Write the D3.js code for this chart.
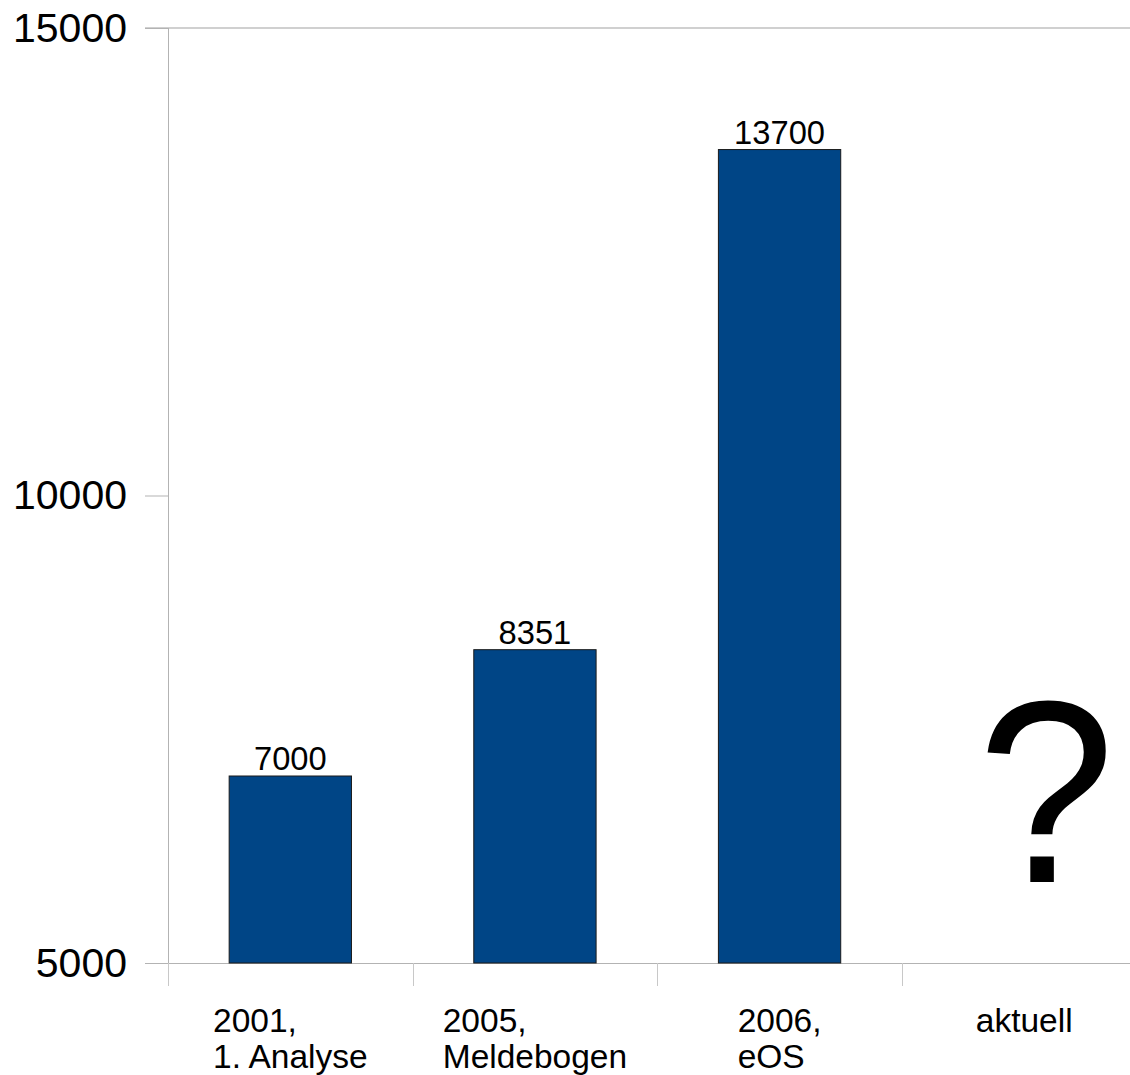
<!DOCTYPE html>
<html>
<head>
<meta charset="utf-8">
<script src="https://cdn.jsdelivr.net/npm/d3@7/dist/d3.min.js"></script>
<style>
  html, body { margin: 0; padding: 0; background: #fff; }
  svg { display: block; font-family: "Liberation Sans", Arial, sans-serif; }
</style>
</head>
<body>
<svg id="chart" width="1130" height="1075"></svg>
<script>
const categories = [["2001,", "1. Analyse"], ["2005,", "Meldebogen"], ["2006,", "eOS"], ["aktuell"]];
const values = [7000, 8351, 13700, null];
const yTicks = [5000, 10000, 15000];
const unknownMark = "?";

const svg = d3.select("#chart");
const plotLeft = 168, plotRight = 1146.5, plotTop = 28, plotBottom = 963;

const keys = categories.map((c, i) => i);
const x = d3.scaleBand().domain(keys).range([plotLeft, plotRight]).paddingInner(0.5).paddingOuter(0.25);
const y = d3.scaleLinear().domain([5000, 15000]).range([plotBottom, plotTop]);

// top border line
svg.append("line").attr("x1", 145).attr("x2", 1130).attr("y1", y(15000)).attr("y2", y(15000))
  .attr("stroke", "#d0d0d0").attr("stroke-width", 2);

// y axis
const yAxis = svg.append("g").attr("transform", `translate(${plotLeft},0)`)
  .call(d3.axisLeft(y).tickValues(yTicks).tickSize(23).tickPadding(18).tickFormat(d3.format("d")));
yAxis.select(".domain").attr("stroke", "#b3b3b3").attr("d", `M0.5,${plotTop}V${plotBottom}`);
yAxis.selectAll(".tick line").attr("stroke", "#b3b3b3");
yAxis.selectAll(".tick text").attr("font-size", 41).attr("fill", "#000").attr("font-family", "Liberation Sans, Arial, sans-serif");

// x axis baseline
svg.append("line").attr("x1", 145).attr("x2", 1130).attr("y1", plotBottom + 0.5).attr("y2", plotBottom + 0.5)
  .attr("stroke", "#b3b3b3");
// x category boundary ticks
const step = x.step();
const boundaries = keys.map(k => x(k) - step * 0.25);
svg.selectAll(".xtick").data(boundaries).enter().append("line")
  .attr("x1", d => Math.round(d) + 0.5).attr("x2", d => Math.round(d) + 0.5)
  .attr("y1", plotBottom).attr("y2", plotBottom + 23).attr("stroke", "#c8c8c8");

// bars
const barData = values.map((v, i) => ({i, v})).filter(d => d.v !== null);
svg.selectAll(".bar").data(barData).enter().append("rect")
  .attr("x", d => x(d.i)).attr("width", x.bandwidth())
  .attr("y", d => y(d.v)).attr("height", d => y(5000) - y(d.v))
  .attr("fill", "#004586").attr("stroke", "#1a1a1a").attr("stroke-width", 1);

// value labels
svg.selectAll(".val").data(barData).enter().append("text")
  .attr("x", d => x(d.i) + x.bandwidth() / 2).attr("y", d => y(d.v) - 6)
  .attr("text-anchor", "middle").attr("font-size", 32.7).attr("fill", "#000")
  .text(d => d.v);

// category labels (block centered, lines left aligned)
categories.forEach((lines, i) => {
  const cx = x(i) + x.bandwidth() / 2;
  const t = svg.append("text").attr("font-size", 33.5).attr("fill", "#000");
  lines.forEach((ln, j) => {
    t.append("tspan").attr("y", 1032 + j * 36).text(ln);
  });
  let maxW = 0;
  t.selectAll("tspan").each(function () { maxW = Math.max(maxW, this.getComputedTextLength()); });
  t.selectAll("tspan").attr("x", cx - maxW / 2);
});

// unknown marker
values.forEach((v, i) => {
  if (v === null) {
    svg.append("text").attr("x", x(i) + x.bandwidth() / 2 + 22).attr("y", 882)
      .attr("text-anchor", "middle").attr("font-size", 260).attr("fill", "#000")
      .attr("transform", `translate(${x(i) + x.bandwidth() / 2 + 22},0) scale(0.95,1) translate(${-(x(i) + x.bandwidth() / 2 + 22)},0)`)
      .text(unknownMark);
  }
});
</script>
</body>
</html>
